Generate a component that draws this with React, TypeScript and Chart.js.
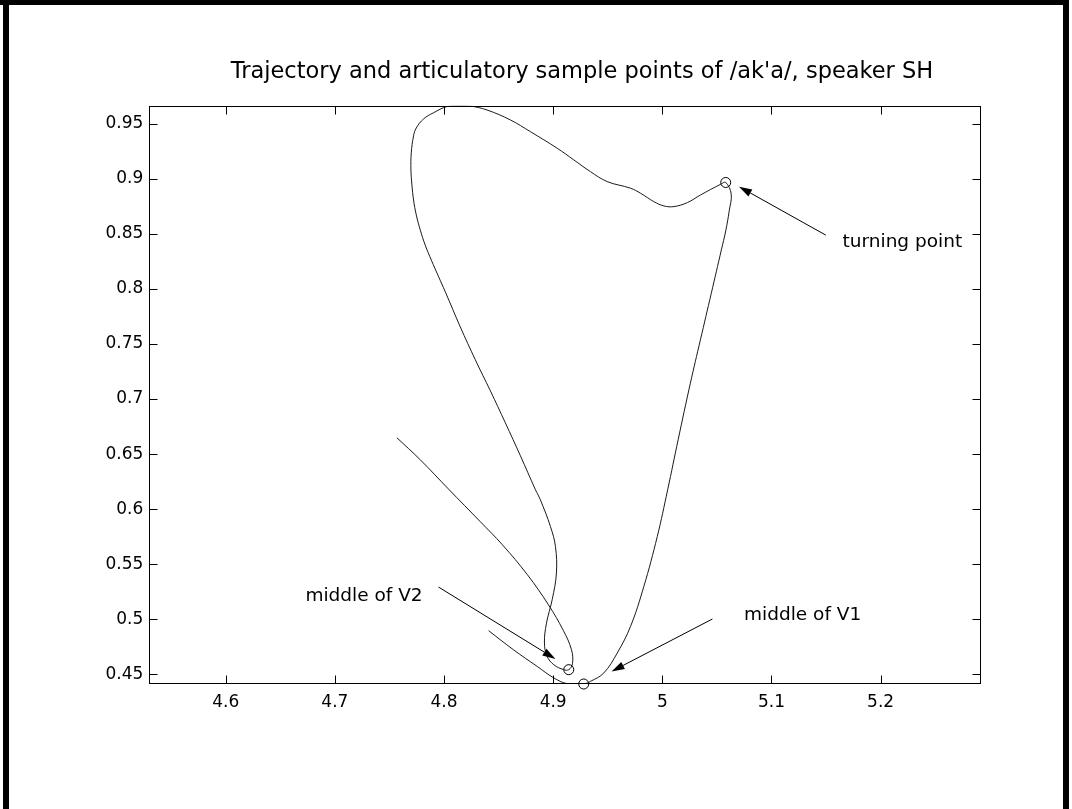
import React, { useEffect, useRef } from "react";
import { Chart, registerables } from "chart.js";

Chart.register(...registerables);

// Tongue trajectory of /ak'a/ (x = horizontal, y = vertical articulator position)
const trajX = [
  4.8409, 4.8636, 4.8853, 4.9003, 4.9128, 4.928,
  4.9342, 4.9464, 4.9587, 4.9709, 4.9831, 4.9954, 5.0049, 5.0145, 5.0257, 5.0349, 5.0449, 5.0541, 5.0581, 5.0613, 5.0631, 5.0581,
  5.0535, 5.0351, 5.0229, 5.0106, 5.0015, 4.9923, 4.9801, 4.9709, 4.9495, 4.9342, 4.9189, 4.9037, 4.8792, 4.8608, 4.8394, 4.8241, 4.8131, 4.8028, 4.7902, 4.7813, 4.7746, 4.7721, 4.77, 4.7697, 4.7706, 4.7721, 4.7746, 4.7783,
  4.7828, 4.7884, 4.7948, 4.8012, 4.8149, 4.8287, 4.8425, 4.8562, 4.87, 4.8838, 4.8883, 4.8975, 4.9021, 4.903, 4.8991, 4.8939, 4.892, 4.8945, 4.9006, 4.9097, 4.9143,
  4.9177, 4.9168, 4.9094, 4.8957, 4.8764, 4.8535, 4.8333, 4.8039, 4.7783, 4.7569,
];
const trajY = [
  0.4897, 0.4724, 0.4573, 0.447, 0.4416, 0.4413,
  0.4437, 0.4513, 0.4694, 0.4936, 0.5299, 0.5752, 0.6176, 0.663, 0.7144, 0.7537, 0.7961, 0.8354, 0.8526, 0.8708, 0.8862, 0.8966,
  0.895, 0.8853, 0.8783, 0.8747, 0.8753, 0.8792, 0.8868, 0.8914, 0.8974, 0.9064, 0.9171, 0.9277, 0.9427, 0.9534, 0.9624, 0.966, 0.9663, 0.9656, 0.9598, 0.9543, 0.9461, 0.9389, 0.9234, 0.908, 0.8944, 0.8807, 0.8671, 0.8533,
  0.8397, 0.8261, 0.8116, 0.7973, 0.7655, 0.7356, 0.7074, 0.6784, 0.6485, 0.6176, 0.6085, 0.5843, 0.5662, 0.542, 0.5178, 0.4966, 0.4785, 0.4663, 0.4588, 0.4543, 0.4543,
  0.4597, 0.4724, 0.4897, 0.5132, 0.5405, 0.5677, 0.5886, 0.6185, 0.6448, 0.6648,
];

// Articulatory sample points
const sampleNames = ["middle of V1", "turning point", "middle of V2"];
const sampleX = [4.928, 5.0581, 4.9143];
const sampleY = [0.4413, 0.8966, 0.4543];

// Axis limits and ticks
const xMin = 4.53;
const xMax = 5.2917;
const yMin = 0.4413;
const yMax = 0.9663;
const xTicks = [4.6, 4.7, 4.8, 4.9, 5, 5.1, 5.2];
const yTicks = [0.45, 0.5, 0.55, 0.6, 0.65, 0.7, 0.75, 0.8, 0.85, 0.9, 0.95];

const titleText = "Trajectory and articulatory sample points of /ak'a/, speaker SH";

// Annotations: label anchor and arrow (tail -> tip), in data units
const noteText = ["turning point", "middle of V1", "middle of V2"];
const noteX = [5.1651, 5.0749, 4.673];
const noteY = [0.838, 0.4996, 0.5166];
const arrowFromX = [5.1498, 5.0459, 4.795];
const arrowFromY = [0.8488, 0.5003, 0.5293];
const arrowToX = [5.0703, 4.9535, 4.9021];
const arrowToY = [0.8928, 0.4527, 0.464];

const W = 1072;
const H = 809;
const AREA = { left: 149.3, right: 980.7, top: 105.7, bottom: 684 };
const FONT = "'DejaVu Sans', 'Liberation Sans', Arial, sans-serif";

function drawArrow(ctx: CanvasRenderingContext2D, x0: number, y0: number, x1: number, y1: number) {
  const ang = Math.atan2(y1 - y0, x1 - x0);
  const len = 13;
  const half = 4;
  const bx = x1 - len * Math.cos(ang);
  const by = y1 - len * Math.sin(ang);
  ctx.beginPath();
  ctx.moveTo(x0, y0);
  ctx.lineTo(bx, by);
  ctx.stroke();
  ctx.beginPath();
  ctx.moveTo(x1, y1);
  ctx.lineTo(bx - half * Math.sin(ang), by + half * Math.cos(ang));
  ctx.lineTo(bx + half * Math.sin(ang), by - half * Math.cos(ang));
  ctx.closePath();
  ctx.fill();
}

const framePlugin = {
  id: "axesFrame",
  afterDraw(chart: any) {
    const { ctx, chartArea: a, scales } = chart;
    const xs = scales.x;
    const ys = scales.y;
    ctx.save();
    ctx.strokeStyle = "#000";
    ctx.fillStyle = "#000";
    ctx.lineWidth = 1;

    // axes box
    const L = Math.round(a.left) + 0.5;
    const R = Math.round(a.right) - 0.5;
    const T = Math.round(a.top) + 0.5;
    const B = Math.round(a.bottom) - 0.5;
    ctx.strokeRect(L, T, R - L, B - T);

    // inward tick marks on all four sides
    const tl = 8;
    ctx.beginPath();
    xTicks.forEach((v) => {
      const px = Math.round(xs.getPixelForValue(v)) + 0.5;
      ctx.moveTo(px, B);
      ctx.lineTo(px, B - tl);
      ctx.moveTo(px, T);
      ctx.lineTo(px, T + tl);
    });
    yTicks.forEach((v) => {
      const py = Math.round(ys.getPixelForValue(v)) + 0.5;
      ctx.moveTo(L, py);
      ctx.lineTo(L + tl, py);
      ctx.moveTo(R, py);
      ctx.lineTo(R - tl, py);
    });
    ctx.stroke();

    // arrows pointing at the sample points
    noteText.forEach((_, i) => {
      drawArrow(
        ctx,
        xs.getPixelForValue(arrowFromX[i]),
        ys.getPixelForValue(arrowFromY[i]),
        xs.getPixelForValue(arrowToX[i]),
        ys.getPixelForValue(arrowToY[i])
      );
    });

    // annotation labels
    ctx.font = `18.5px ${FONT}`;
    ctx.textAlign = "left";
    ctx.textBaseline = "alphabetic";
    noteText.forEach((t, i) => {
      ctx.fillText(t, xs.getPixelForValue(noteX[i]), ys.getPixelForValue(noteY[i]));
    });

    // title
    ctx.font = `22.5px ${FONT}`;
    ctx.textAlign = "center";
    ctx.fillText(titleText, 582, 78);
    ctx.restore();
  },
};

export default function App() {
  const canvasRef = useRef<HTMLCanvasElement | null>(null);

  useEffect(() => {
    document.body.style.margin = "0";
    const canvas = canvasRef.current;
    if (!canvas) return;
    const tickFont = { family: FONT, size: 17 };
    const chart = new Chart(canvas, {
      type: "scatter",
      data: {
        datasets: [
          {
            label: "trajectory",
            data: trajX.map((x, i) => ({ x, y: trajY[i] })),
            showLine: true,
            borderColor: "#1a1a1a",
            borderWidth: 1,
            pointRadius: 0,
            tension: 0.38,
            fill: false,
          },
          {
            label: "sample points",
            data: sampleX.map((x, i) => ({ x, y: sampleY[i], name: sampleNames[i] })),
            showLine: false,
            pointStyle: "circle",
            pointRadius: 5,
            pointBorderWidth: 1,
            pointBorderColor: "#000",
            pointBackgroundColor: "rgba(0,0,0,0)",
            clip: false,
          },
        ],
      },
      options: {
        animation: false,
        responsive: false,
        devicePixelRatio: 1,
        layout: {
          padding: { left: 0, top: AREA.top, right: W - AREA.right, bottom: 0 },
        },
        plugins: {
          legend: { display: false },
          title: { display: false },
          tooltip: { enabled: false },
        },
        scales: {
          x: {
            type: "linear",
            min: xMin,
            max: xMax,
            grid: { display: false, drawTicks: false },
            border: { display: false },
            ticks: {
              font: tickFont,
              color: "#000",
              padding: 8,
              autoSkip: false,
              maxRotation: 0,
              callback: (v: any) => String(Number(v)),
            },
            afterBuildTicks: (s: any) => {
              s.ticks = xTicks.map((value) => ({ value }));
            },
            afterFit: (s: any) => {
              s.height = H - AREA.bottom;
            },
          },
          y: {
            type: "linear",
            min: yMin,
            max: yMax,
            grid: { display: false, drawTicks: false },
            border: { display: false },
            ticks: {
              font: tickFont,
              color: "#000",
              padding: 6,
              autoSkip: false,
              callback: (v: any) => String(Number(v)),
            },
            afterBuildTicks: (s: any) => {
              s.ticks = yTicks.map((value) => ({ value }));
            },
            afterFit: (s: any) => {
              s.width = AREA.left;
            },
          },
        },
      },
      plugins: [framePlugin],
    });
    return () => chart.destroy();
  }, []);

  return (
    <div style={{ position: "fixed", left: 0, top: 0, width: W, height: H, background: "#fff" }}>
      <canvas ref={canvasRef} width={W} height={H} style={{ display: "block", width: W, height: H }} />
      <div style={{ position: "absolute", left: 0, top: 0, width: W - 3, height: 5, background: "#000" }} />
      <div style={{ position: "absolute", left: 3, top: 0, width: 6, height: H, background: "#000" }} />
      <div style={{ position: "absolute", left: W - 9, top: 0, width: 6, height: H, background: "#000" }} />
    </div>
  );
}
